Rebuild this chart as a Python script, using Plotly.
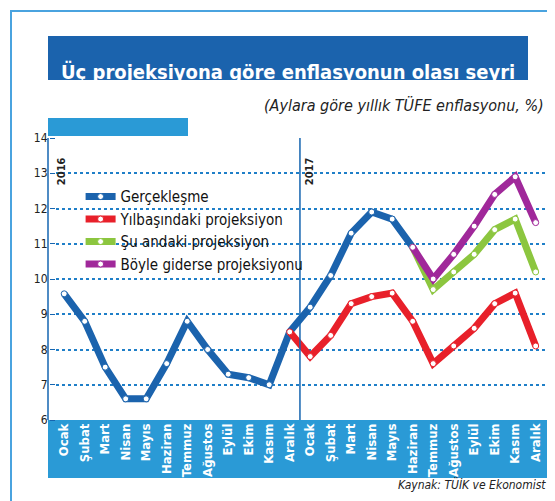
import plotly.graph_objects as go

months = ["Ocak","Şubat","Mart","Nisan","Mayıs","Haziran","Temmuz","Ağustos","Eylül","Ekim","Kasım","Aralık"]
labels = months + months
actual = [9.58, 8.8, 7.5, 6.6, 6.6, 7.6, 8.8, 8.0, 7.3, 7.2, 7.0, 8.5, 9.2, 10.1, 11.3, 11.9, 11.7, 10.9]
newyear_proj = [8.5, 7.8, 8.4, 9.3, 9.5, 9.6, 8.8, 7.6, 8.1, 8.6, 9.3, 9.6, 8.1]
current_proj = [10.9, 9.7, 10.2, 10.7, 11.4, 11.7, 10.2]
trend_proj = [10.9, 10.0, 10.7, 11.5, 12.4, 12.9, 11.6]

FONT = "DejaVu Sans Condensed, Roboto, sans-serif"
BLUE = "#1565b0"
L, R, T, B = 48, 15, 130, 89
W, H = 555, 501
pw, ph = W - L - R, H - T - B
def px(x): return (x - L) / pw
def py(y): return (H - B - y) / ph

fig = go.Figure()
def add(name, xs, ys, color):
    fig.add_trace(go.Scatter(x=xs, y=ys, name=name, mode="lines+markers",
        line=dict(color=color, width=7),
        marker=dict(color="white", size=6, line=dict(color=color, width=1))))
add("Gerçekleşme", list(range(len(actual))), actual, "#1b63ad")
add("Yılbaşındaki projeksiyon", list(range(11, 11 + len(newyear_proj))), newyear_proj, "#e8202a")
add("Şu andaki projeksiyon", list(range(17, 17 + len(current_proj))), current_proj, "#8cc63f")
add("Böyle giderse projeksiyonu", list(range(17, 17 + len(trend_proj))), trend_proj, "#a0289a")

shapes = [
    dict(type="rect", xref="paper", yref="paper", x0=px(3), x1=px(552), y0=py(498), y1=py(3),
         line=dict(color="#4aa3df", width=2), fillcolor="rgba(0,0,0,0)", layer="below"),
    dict(type="rect", xref="paper", yref="paper", x0=px(40), x1=px(540), y0=py(470), y1=py(412),
         line=dict(width=0), fillcolor="#2a9ad6", layer="below"),
    dict(type="rect", xref="paper", yref="paper", x0=px(40), x1=px(520), y0=py(72), y1=py(28),
         line=dict(width=0), fillcolor="#1b63ad", layer="below"),
    dict(type="rect", xref="paper", yref="paper", x0=px(40), x1=px(180), y0=py(128), y1=py(110),
         line=dict(width=0), fillcolor="#2a9ad6", layer="below"),
    dict(type="line", xref="x", yref="paper", x0=11.5, x1=11.5, y0=0, y1=1,
         line=dict(color=BLUE, width=1.5)),
    dict(type="line", xref="paper", yref="paper", x0=px(40), x1=px(40), y0=0, y1=1,
         line=dict(color=BLUE, width=1.5)),
]

ann = [
    dict(text="<b>Üç projeksiyona göre enflasyonun olası seyri</b>", x=px(280), y=py(50),
         font=dict(color="white", size=20, family=FONT)),
    dict(text="<i>(Aylara göre yıllık TÜFE enflasyonu, %)</i>", x=px(538), y=py(86), xanchor="right",
         font=dict(color="#222", size=16, family=FONT)),
    dict(text="<i>Kaynak: TÜİK ve Ekonomist</i>", x=px(540), y=py(486), xanchor="right",
         font=dict(color="#222", size=12, family=FONT)),
    dict(text="<b>2016</b>", x=-0.15, y=py(147), xref="x", textangle=-90,
         font=dict(color="#222", size=11, family=FONT)),
    dict(text="<b>2017</b>", x=11.95, y=py(147), xref="x", textangle=-90,
         font=dict(color="#222", size=11, family=FONT)),
]
for a in ann:
    a.setdefault("xref", "paper"); a["yref"] = "paper"; a["showarrow"] = False

fig.update_layout(
    width=W, height=H, margin=dict(l=L, r=R, t=T, b=B),
    paper_bgcolor="white", plot_bgcolor="white",
    shapes=shapes, annotations=ann,
    legend=dict(x=0.05, y=0.85, xanchor="left", yanchor="top", bgcolor="rgba(0,0,0,0)",
                font=dict(size=15, family=FONT, color="#111"), itemwidth=30,
                tracegroupgap=0),
    xaxis=dict(range=[-0.4, 23.6], tickmode="array", tickvals=list(range(24)),
               ticktext=["<b>%s</b>" % s for s in labels],
               tickangle=-90, tickfont=dict(color="white", size=13, family=FONT),
               showgrid=False, zeroline=False, ticks="inside", ticklen=5, tickcolor="white"),
    yaxis=dict(range=[6, 14], dtick=1, showgrid=True, griddash="dot", gridcolor="#1f7fc8",
               gridwidth=1.5, zeroline=False, ticks="outside", ticklen=5, tickcolor=BLUE,
               tickfont=dict(color="#222", size=12, family=FONT)),
)
fig.write_html("out.html")
